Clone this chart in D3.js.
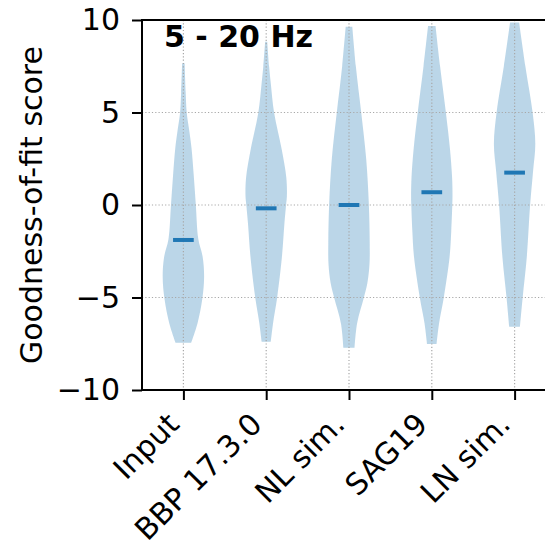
<!DOCTYPE html>
<html>
<head>
<meta charset="utf-8">
<script src="https://cdn.jsdelivr.net/npm/d3@7"></script>
<style>
  html, body { margin: 0; padding: 0; background: #fff; }
  svg { display: block; font-family: "DejaVu Sans", sans-serif; }
</style>
</head>
<body>
<svg id="chart" width="545" height="547"></svg>
<script>
// Model categories (x axis)
const categories = ["Input", "BBP 17.3.0", "NL sim.", "SAG19", "LN sim."];

// Median goodness-of-fit score per model
const medians = [-1.89, -0.18, 0.0, 0.69, 1.75];

// Kernel-density profile per model: [score, relative density (0..1)]
const densityInput = [[7.66,0.06],[6.1,0.11],[5,0.16],[3.96,0.29],[3.1,0.39],[1.6,0.5],[0,0.6],[-1.84,0.72],[-2.8,0.93],[-3.9,1.0],[-5.1,0.91],[-6.4,0.68],[-7.44,0.38]];
const densityBBP   = [[8.83,0.05],[7.5,0.14],[6.6,0.22],[5,0.38],[3,0.75],[1.5,0.97],[0.5,1.0],[0,0.96],[-1,0.88],[-2.8,0.76],[-5,0.53],[-6.4,0.33],[-7.39,0.22]];
const densityNL    = [[9.64,0.16],[7.5,0.33],[5,0.59],[2.5,0.83],[0,0.96],[-2,1.0],[-3.2,0.99],[-4.2,0.89],[-5,0.72],[-6.4,0.39],[-7.71,0.27]];
const densitySAG   = [[9.68,0.18],[7.5,0.4],[5,0.68],[3,0.88],[1.5,0.98],[0.5,1.0],[0,0.99],[-1.4,0.94],[-2.8,0.86],[-5,0.58],[-6.4,0.35],[-7.51,0.23]];
const densityLN    = [[9.86,0.22],[7.5,0.52],[5,0.87],[3.3,1.0],[1.8,0.89],[0,0.75],[-2.8,0.59],[-5,0.39],[-6.58,0.26]];
const densities = [densityInput, densityBBP, densityNL, densitySAG, densityLN];

// Axis ticks and labels
const yTicks = [-10, -5, 0, 5, 10];
const yLabel = "Goodness-of-fit score";
const title = "5 - 20 Hz";

const svg = d3.select("#chart");
const color = "#1f77b4";
const fontSize = 30;

const x = d3.scaleLinear().domain([0.5, 5.5]).range([142, 556]);
const y = d3.scaleLinear().domain([-10, 10]).range([390, 20]);
// half-width of a violin: full body spans 0.5 x-units at peak density
const w = d3.scaleLinear().domain([0, 1]).range([0, x(1.25) - x(1)]);

const plot = svg.append("g");

// Violin bodies
densities.forEach((prof, i) => {
  const cx = x(i + 1);
  const area = d3.area()
    .y(d => y(d[0]))
    .x0(d => cx - w(d[1]))
    .x1(d => cx + w(d[1]))
    .curve(d3.curveCatmullRom.alpha(0.5));
  plot.append("path")
    .attr("d", area(prof))
    .attr("fill", color)
    .attr("fill-opacity", 0.3)
    .attr("stroke", "none");
});

// Dotted grid
const grid = svg.append("g")
  .attr("stroke", "#a8a8a8")
  .attr("stroke-width", 1.2)
  .attr("stroke-dasharray", "1.2,2.1");
yTicks.forEach(t => {
  grid.append("line").attr("x1", 142).attr("x2", 545).attr("y1", y(t)).attr("y2", y(t));
});
categories.forEach((c, i) => {
  grid.append("line").attr("x1", x(i + 1)).attr("x2", x(i + 1)).attr("y1", 20).attr("y2", 390);
});

// Median markers
medians.forEach((m, i) => {
  const cx = x(i + 1);
  svg.append("line")
    .attr("x1", cx - w(0.5)).attr("x2", cx + w(0.5))
    .attr("y1", y(m)).attr("y2", y(m))
    .attr("stroke", color).attr("stroke-width", 4);
});

// Axes
const yAxis = d3.axisLeft(y).tickValues(yTicks).tickSize(10).tickPadding(12)
  .tickFormat(d => d < 0 ? "\u2212" + Math.abs(d) : String(d));
const gy = svg.append("g").attr("transform", "translate(142,0)").call(yAxis);
gy.select(".domain").remove();
gy.selectAll(".tick line").attr("stroke", "#000").attr("stroke-width", 2);
gy.selectAll(".tick text").attr("font-size", fontSize).attr("fill", "#000")
  .attr("font-family", "DejaVu Sans");

const xAxis = d3.axisBottom(x).tickValues(categories.map((c, i) => i + 1))
  .tickSize(10).tickFormat((d, i) => categories[i]);
const gx = svg.append("g").attr("transform", "translate(0,390)").call(xAxis);
gx.select(".domain").remove();
gx.selectAll(".tick line").attr("stroke", "#000").attr("stroke-width", 2);
gx.selectAll(".tick text")
  .attr("font-size", fontSize).attr("fill", "#000").attr("font-family", "DejaVu Sans")
  .attr("text-anchor", "end")
  .attr("dy", 0).attr("y", 0)
  .attr("transform", "translate(-3,36) rotate(-45)");

// Spines
const spines = svg.append("g").attr("stroke", "#000").attr("stroke-width", 2).attr("stroke-linecap", "square");
spines.append("line").attr("x1", 142).attr("x2", 142).attr("y1", 20).attr("y2", 390);
spines.append("line").attr("x1", 142).attr("x2", 545).attr("y1", 390).attr("y2", 390);
spines.append("line").attr("x1", 142).attr("x2", 545).attr("y1", 20).attr("y2", 20);

// Y axis label
svg.append("text")
  .attr("transform", `translate(42,${y(0)}) rotate(-90)`)
  .attr("text-anchor", "middle")
  .attr("font-size", fontSize)
  .attr("fill", "#000")
  .text(yLabel);

// Panel title
svg.append("text")
  .attr("x", 164).attr("y", 47)
  .attr("font-size", 30).attr("font-weight", "bold")
  .attr("fill", "#000")
  .text(title);
</script>
</body>
</html>
